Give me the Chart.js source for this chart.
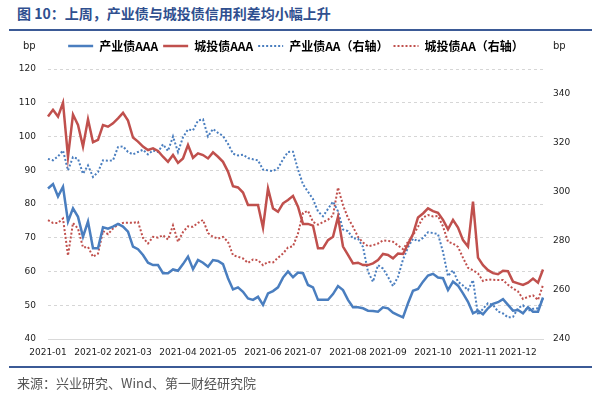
<!DOCTYPE html>
<html>
<head>
<meta charset="utf-8">
<script src="https://cdn.jsdelivr.net/npm/chart.js@4.4.1/dist/chart.umd.min.js"></script>
<style>
  body { margin: 0; background: #fff; font-family: "Noto Sans CJK SC", sans-serif; }
  #page { position: relative; width: 592px; height: 393px; overflow: hidden; }
  #box { position: absolute; left: 0; top: 0; width: 592px; height: 393px; }
  .title { position: absolute; left: 17px; top: 3px; font-size: 14px; font-weight: bold; color: #2f4f8f; line-height: 20px; white-space: nowrap; }
  .rule { position: absolute; left: 9px; width: 583px; height: 2px; background: #3b5a96; }
  .unit { position: absolute; top: 40px; font-size: 10px; color: #222; font-family: "DejaVu Sans", sans-serif; }
  .source { position: absolute; left: 17px; top: 374px; font-size: 13px; color: #555; line-height: 18px; white-space: nowrap; }
</style>
</head>
<body>
<div id="page">
  <div class="title">图 10：上周，产业债与城投债信用利差均小幅上升</div>
  <div class="rule" style="top:29px"></div>
  <div id="box"><canvas id="spreadChart"></canvas></div>
  <div class="unit" style="left:23px">bp</div>
  <div class="unit" style="left:553px">bp</div>
  <div class="rule" style="top:366px"></div>
  <div class="source">来源：兴业研究、Wind、第一财经研究院</div>
</div>
<script>
// month tick labels and the sample index where each month starts
const monthLabels = ["2021-01", "2021-02", "2021-03", "2021-04", "2021-05", "2021-06",
  "2021-07", "2021-08", "2021-09", "2021-10", "2021-11", "2021-12"];
const monthStart = [0, 9, 17, 26, 34, 43, 51, 60, 68, 77, 86, 94];

const leftTicks = [40, 50, 60, 70, 80, 90, 100, 110, 120];
const rightTicks = [240, 260, 280, 300, 320, 340];

// 产业债AAA (left axis, bp)
const cyAAA = [84.6, 85.9, 82.2, 85.1, 74.8, 78.7, 76.2, 70.3, 74.8, 66.9,
  66.9, 73.1, 72.7, 73.3, 74.1, 73.3, 71.8, 67.4, 66.6, 64.9,
  62.6, 61.9, 61.9, 59.5, 59.5, 60.6, 60.2, 62.2, 64.4, 60.7,
  63.4, 62.6, 61.4, 63.4, 63.1, 62.2, 58.0, 54.7, 55.3, 54.0,
  52.0, 51.6, 52.5, 50.1, 53.5, 54.2, 55.3, 58.2, 60.0, 58.3,
  59.7, 59.5, 56.0, 55.3, 51.6, 51.6, 51.6, 53.3, 55.7, 54.5,
  51.6, 49.4, 49.4, 49.1, 48.4, 48.3, 48.1, 49.4, 49.1, 47.8,
  47.1, 46.4, 50.6, 54.3, 54.8, 57.0, 58.8, 59.3, 58.2, 58.0,
  54.5, 57.0, 55.8, 53.5, 51.0, 47.6, 48.4, 47.3, 49.1, 50.4,
  50.9, 51.8, 50.1, 48.4, 48.6, 47.6, 49.4, 48.1, 48.1, 52.3];

// 城投债AAA (left axis, bp)
const ctAAA = [105.9, 107.9, 105.9, 110.0, 94.0, 106.5, 103.4, 97.0, 105.1, 98.3,
  99.0, 103.4, 102.9, 103.9, 105.4, 107.0, 104.7, 99.7, 98.5, 97.0,
  96.0, 96.5, 95.7, 94.0, 92.5, 94.5, 92.2, 93.5, 97.5, 93.7,
  95.0, 94.5, 93.5, 95.3, 94.0, 92.5, 89.6, 85.3, 84.9, 83.4,
  79.7, 79.7, 79.7, 73.0, 84.6, 78.7, 77.7, 80.2, 81.2, 82.4,
  79.2, 74.1, 74.1, 73.6, 66.9, 66.9, 69.3, 70.3, 76.2, 67.4,
  64.9, 62.4, 62.6, 61.9, 61.9, 62.4, 63.4, 65.2, 64.9, 63.9,
  65.3, 65.2, 68.1, 71.1, 76.0, 77.2, 78.7, 77.9, 77.4, 75.3,
  72.5, 75.3, 73.0, 69.3, 67.4, 80.7, 64.1, 61.9, 60.4, 59.5,
  59.2, 60.2, 60.1, 57.0, 56.5, 56.0, 56.7, 57.9, 56.7, 60.6];

// 产业债AA (right axis, bp)
const cyAA = [313.4, 312.8, 314.4, 316.8, 308.7, 314.1, 313.4, 307.3, 310.7, 306.0,
  308.0, 312.8, 312.6, 312.8, 318.2, 318.5, 316.2, 315.2, 316.2, 317.1,
  315.2, 316.8, 316.2, 319.3, 316.6, 322.5, 316.2, 322.2, 325.4, 325.0,
  329.0, 329.5, 322.5, 325.6, 324.0, 322.7, 319.5, 315.5, 314.8, 315.1,
  313.7, 313.2, 312.8, 309.0, 308.7, 308.4, 309.6, 313.2, 316.2, 316.3,
  309.0, 303.0, 300.0, 297.0, 292.0, 290.0, 293.0, 296.0, 292.0, 284.6,
  284.0, 280.9, 280.9, 277.5, 267.4, 263.3, 270.1, 268.7, 265.3, 261.5,
  265.3, 272.4, 277.3, 280.9, 279.8, 281.2, 283.5, 283.2, 282.7, 275.5,
  265.6, 268.0, 263.3, 261.8, 259.9, 264.0, 249.8, 252.3, 254.6, 253.9,
  251.2, 250.4, 248.8, 249.0, 252.6, 253.7, 251.5, 252.3, 252.5, 256.5];

// 城投债AA (right axis, bp)
const ctAA = [288.4, 287.3, 287.3, 289.1, 274.0, 287.3, 285.0, 277.3, 277.5, 273.5,
  274.8, 284.0, 282.7, 285.0, 286.6, 287.3, 287.4, 287.3, 287.7, 281.2,
  278.9, 281.6, 281.3, 282.3, 280.5, 286.3, 279.6, 283.6, 285.9, 285.7,
  287.3, 288.5, 283.2, 281.6, 280.9, 281.6, 279.6, 274.1, 273.5, 272.8,
  271.0, 272.4, 272.1, 270.1, 271.4, 271.2, 273.1, 274.8, 277.3, 277.8,
  283.0, 291.4, 292.2, 287.7, 286.6, 287.6, 288.6, 290.3, 301.7, 294.5,
  289.3, 285.7, 281.6, 279.3, 277.8, 278.2, 278.9, 280.2, 280.0, 279.6,
  278.1, 276.6, 279.6, 282.3, 285.7, 289.5, 290.5, 289.9, 290.1, 285.9,
  279.6, 278.9, 277.5, 273.1, 269.0, 268.0, 266.7, 263.6, 264.3, 264.1,
  264.0, 264.0, 262.1, 260.6, 259.4, 256.3, 257.2, 257.8, 255.9, 262.0];

const labels = cyAAA.map((_, i) => {
  const k = monthStart.indexOf(i);
  return k >= 0 ? monthLabels[k] : "";
});

const BLUE = "#4a7ebf";
const RED = "#c0504d";
const tickFont = { family: "DejaVu Sans", size: 9 };

// legend lines: take dash and width from the dataset line, not the point
function legendLabels(chart) {
  const items = Chart.defaults.plugins.legend.labels.generateLabels(chart);
  items.forEach((item) => {
    const ds = chart.data.datasets[item.datasetIndex];
    item.lineDash = ds.borderDash || [];
    item.lineWidth = ds.borderWidth;
    item.strokeStyle = ds.borderColor;
  });
  return items;
}

const ctx = document.getElementById("spreadChart");
new Chart(ctx, {
  type: "line",
  data: {
    labels: labels,
    datasets: [
      { label: "产业债AAA", data: cyAAA, yAxisID: "y", borderColor: BLUE, backgroundColor: BLUE, borderWidth: 2.5 },
      { label: "城投债AAA", data: ctAAA, yAxisID: "y", borderColor: RED, backgroundColor: RED, borderWidth: 2.5 },
      { label: "产业债AA（右轴）", data: cyAA, yAxisID: "y2", borderColor: BLUE, backgroundColor: BLUE, borderWidth: 2, borderDash: [2, 2] },
      { label: "城投债AA（右轴）", data: ctAA, yAxisID: "y2", borderColor: RED, backgroundColor: RED, borderWidth: 2, borderDash: [2, 2] },
    ],
  },
  options: {
    responsive: true,
    maintainAspectRatio: false,
    animation: false,
    elements: { point: { radius: 0 }, line: { tension: 0 } },
    layout: { padding: { top: 35, left: 0, right: 0, bottom: 0 } },
    plugins: {
      tooltip: { enabled: false },
      legend: {
        position: "top",
        weight: 1000,
        labels: {
          usePointStyle: true,
          pointStyle: "line",
          pointStyleWidth: 25,
          padding: 5,
          color: "#000",
          font: { family: "Noto Sans CJK SC", size: 12, weight: "bold" },
          generateLabels: legendLabels,
        },
      },
      // empty title used as a spacer between legend and plot
      title: { display: true, text: "", weight: 500, padding: 0, font: { size: 7, lineHeight: 1 } },
    },
    scales: {
      x: {
        type: "category",
        grid: { display: false, drawTicks: false },
        border: { display: true, color: "#d9d9d9", width: 1 },
        ticks: { autoSkip: false, maxRotation: 0, minRotation: 0, padding: 8, color: "#222", font: tickFont },
        afterFit: (axis) => { axis.height = 54; },
      },
      y: {
        position: "left",
        min: 40,
        max: 120,
        afterBuildTicks: (axis) => { axis.ticks = leftTicks.map((v) => ({ value: v })); },
        grid: { color: "#d6d6d6", drawTicks: false },
        border: { display: false, dash: [3, 3] },
        ticks: { padding: 12, color: "#222", font: tickFont },
        afterFit: (axis) => { axis.width = 48; },
      },
      y2: {
        position: "right",
        min: 240,
        max: 350,
        afterBuildTicks: (axis) => { axis.ticks = rightTicks.map((v) => ({ value: v })); },
        grid: { display: false, drawTicks: false },
        border: { display: false },
        ticks: { padding: 10, color: "#222", font: tickFont },
        afterFit: (axis) => { axis.width = 49; },
      },
    },
  },
});
</script>
</body>
</html>
